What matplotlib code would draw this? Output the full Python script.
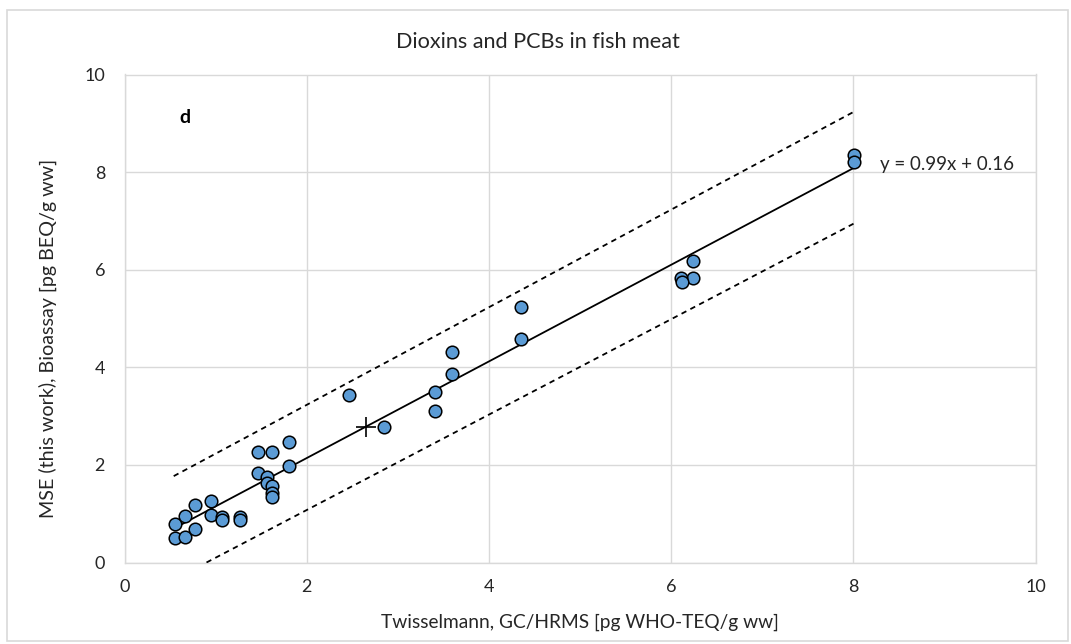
import numpy as np
import matplotlib
matplotlib.use("Agg")
import matplotlib.pyplot as plt
from matplotlib.patches import Rectangle

plt.rcParams['font.family'] = ['Lato', 'DejaVu Sans']

# GC/HRMS reference values vs. bioassay results (pg/g ww)
gc_hrms = [0.55, 0.55, 0.66, 0.66, 0.77, 0.77, 0.95, 0.95, 1.07, 1.07, 1.27, 1.27,
           1.46, 1.62, 1.81, 1.81, 1.46, 1.56, 1.56, 1.62, 1.62, 1.62,
           2.46, 2.85, 3.41, 3.41, 3.60, 3.60, 4.35, 4.35,
           6.24, 6.24, 6.11, 6.12, 8.01, 8.01]
bioassay = [0.78, 0.51, 0.96, 0.53, 1.18, 0.68, 1.27, 0.97, 0.94, 0.87, 0.94, 0.87,
            2.27, 2.27, 2.47, 1.98, 1.84, 1.75, 1.62, 1.57, 1.43, 1.35,
            3.43, 2.77, 3.50, 3.11, 4.32, 3.86, 5.24, 4.58,
            6.18, 5.84, 5.84, 5.75, 8.35, 8.20]

# Linear fit as reported
slope = 0.99
intercept = 0.16

# Prediction band end points
upper_band_x = [0.54, 8.01]
upper_band_y = [1.77, 9.24]
lower_band_x = [0.90, 8.01]
lower_band_y = [0.00, 6.95]

x_ticks = [0, 2, 4, 6, 8, 10]
y_ticks = [0, 2, 4, 6, 8, 10]

W, H = 1071, 644
fig = plt.figure(figsize=(W / 100, H / 100), dpi=100)
ax = fig.add_axes([124.5 / W, 81.5 / H, 911 / W, 488 / H])

# chart frame
fig.patches.append(Rectangle((7 / W, 3 / H), 1061 / W, 631 / H, transform=fig.transFigure,
                             fill=False, edgecolor='#d9d9d9', linewidth=1.2))

text_color = '#262626'
grid_color = '#d9d9d9'

ax.set_xlim(0, 10)
ax.set_ylim(0, 10)
ax.set_xticks(x_ticks)
ax.set_yticks(y_ticks)
ax.tick_params(length=0, labelsize=13, colors=text_color, pad=12)
ax.tick_params(axis='y', pad=14)
ax.grid(True, color=grid_color, linewidth=1)
ax.set_axisbelow(True)
for s in ax.spines.values():
    s.set_color(grid_color)
    s.set_linewidth(1)

xs = np.array(gc_hrms)
ys = np.array(bioassay)

# regression line over the data range
fit_x = np.array([xs.min(), xs.max()])
ax.plot(fit_x, slope * fit_x + intercept, color='black', linewidth=1.3, zorder=3)

# prediction bands
ax.plot(upper_band_x, upper_band_y, color='black', linewidth=1.3,
        linestyle=(0, (3, 2.5)), zorder=3)
ax.plot(lower_band_x, lower_band_y, color='black', linewidth=1.3,
        linestyle=(0, (3, 2.5)), zorder=3)

ax.scatter(xs, ys, s=82, facecolor='#5b9bd5', edgecolor='black', linewidth=1.1, zorder=4)

# centroid of the data
ax.plot([xs.mean()], [ys.mean()], marker='+', color='black', markersize=15,
        markeredgewidth=1.2, zorder=5, linestyle='none')

ax.text(8.29, 8.15, f"y = {slope:.2f}x + {intercept:.2f}", fontsize=13.5,
        color=text_color, va='center', ha='left')
ax.text(0.60, 9.11, "d", fontsize=14, fontweight='bold', color='black',
        va='center', ha='left')

ax.set_xlabel("Twisselmann, GC/HRMS [pg WHO-TEQ/g ww]", fontsize=13.8,
              color=text_color)
ax.xaxis.set_label_coords(0.5, -0.122)
ax.set_ylabel("MSE (this work), Bioassay [pg BEQ/g ww]", fontsize=14.2,
              color=text_color)
ax.yaxis.set_label_coords(-0.084, 0.46)
ax.yaxis.label.set_va('center')
ax.xaxis.label.set_va('center')

fig.text(538 / W, 1 - 42 / H, "Dioxins and PCBs in fish meat", fontsize=15.6,
         color=text_color, ha='center', va='center')

fig.savefig("out.png", dpi=100)
